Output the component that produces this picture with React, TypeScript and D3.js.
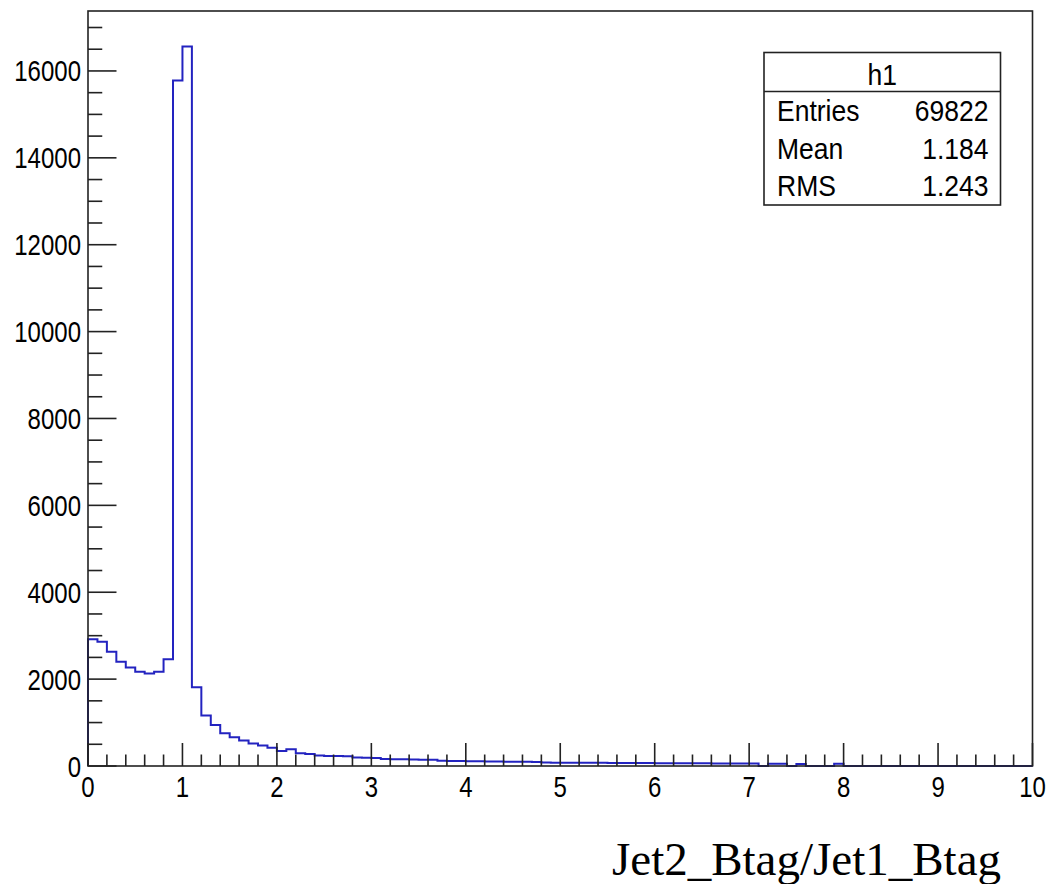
import React from "react";
import * as d3 from "d3";

const binEdges: number[] = [0, 10];
const nBins = 100;
const binValues: number[] = [
  2920, 2860, 2630, 2400, 2270, 2170, 2130, 2170, 2460, 15780,
  16560, 1810, 1160, 945, 755, 660, 585, 520, 470, 420,
  345, 385, 295, 275, 240, 232, 228, 222, 196, 190,
  185, 162, 158, 154, 150, 146, 142, 120, 116, 113,
  110, 107, 104, 101, 99, 97, 95, 93, 78, 77,
  76, 75, 74, 73, 72, 71, 70, 69, 68, 67,
  66, 65, 64, 63, 62, 61, 60, 59, 58, 57,
  56, 0, 52, 50, 0, 48, 0, 0, 0, 50,
  0, 0, 0, 0, 0, 0, 0, 0, 0, 0,
  0, 0, 0, 0, 0, 0, 0, 0, 0, 0,
];
const xTickLabels: string[] = ["0", "1", "2", "3", "4", "5", "6", "7", "8", "9", "10"];
const yTickValues: number[] = [0, 2000, 4000, 6000, 8000, 10000, 12000, 14000, 16000];
const statsTitle = "h1";
const statsLabels: string[] = ["Entries", "Mean", "RMS"];
const statsValues: string[] = ["69822", "1.184", "1.243"];
const xTitle = "Jet2_Btag/Jet1_Btag";
const yMax = 17380;

export default function App() {
  const W = 1048, H = 884;
  const left = 88, right = 1032.5, top = 11, bottom = 766;
  const x = d3.scaleLinear().domain(binEdges).range([left, right]);
  const y = d3.scaleLinear().domain([0, yMax]).range([bottom, top]);
  const bw = (binEdges[1] - binEdges[0]) / nBins;

  const pts: [number, number][] = [[binEdges[0], 0]];
  binValues.forEach((v, i) => {
    pts.push([binEdges[0] + i * bw, v]);
    pts.push([binEdges[0] + (i + 1) * bw, v]);
  });
  pts.push([binEdges[1], 0]);
  const line = d3.line<[number, number]>().x((d) => x(d[0])).y((d) => y(d[1]));

  const xMinor = d3.range(0, 10.0001, 0.2);
  const yMinor = d3.range(0, 17001, 500);
  const xTickLen = 23, yTickLen = 28.5;
  const font = "'Liberation Sans', Arial, Helvetica, sans-serif";

  const box = { x0: 764, x1: 1000.5, y0: 52.5, y1: 205, ydiv: 91.5 };
  const rowBase = [121, 158.5, 196];

  return (
    <svg width={W} height={H} style={{ position: "absolute", left: 0, top: 0, background: "#fff" }}>
      <rect x={0} y={0} width={W} height={H} fill="#fff" />
      <path d={line(pts) || ""} fill="none" stroke="#2323c0" strokeWidth={2} />
      {/* frame */}
      <rect x={left} y={top} width={right - left} height={bottom - top} fill="none" stroke="#222" strokeWidth={1.6} />
      {/* x ticks */}
      {xMinor.map((v, i) => {
        const major = Math.abs(v - Math.round(v)) < 1e-6;
        return (
          <line key={"xt" + i} x1={x(v)} x2={x(v)} y1={bottom} y2={bottom - (major ? xTickLen : xTickLen / 2)} stroke="#222" strokeWidth={1.6} />
        );
      })}
      {yMinor.map((v, i) => {
        const major = v % 2000 === 0;
        return (
          <line key={"yt" + i} x1={left} x2={left + (major ? yTickLen : yTickLen / 2)} y1={y(v)} y2={y(v)} stroke="#222" strokeWidth={1.6} />
        );
      })}
      {/* x labels */}
      {xTickLabels.map((t, i) => (
        <text key={"xl" + i} transform={`translate(${x(+t)},797) scale(1,1.22)`} textAnchor="middle" fontFamily={font} fontSize={24} fill="#000">{t}</text>
      ))}
      {yTickValues.map((v, i) => (
        <text key={"yl" + i} transform={`translate(81,${y(v) + 10.5}) scale(1,1.22)`} textAnchor="end" fontFamily={font} fontSize={24} fill="#000">{String(v)}</text>
      ))}
      {/* stats box */}
      <rect x={box.x0} y={box.y0} width={box.x1 - box.x0} height={box.y1 - box.y0} fill="#fff" stroke="#222" strokeWidth={1.6} />
      <line x1={box.x0} x2={box.x1} y1={box.ydiv} y2={box.ydiv} stroke="#222" strokeWidth={1.6} />
      <text transform={`translate(${(box.x0 + box.x1) / 2},84.5) scale(1,1.08)`} textAnchor="middle" fontFamily={font} fontSize={26.5} fill="#000">{statsTitle}</text>
      {statsLabels.map((s, i) => (
        <text key={"sl" + i} transform={`translate(777,${rowBase[i]}) scale(1,1.08)`} fontFamily={font} fontSize={26.5} fill="#000">{s}</text>
      ))}
      {statsValues.map((s, i) => (
        <text key={"sv" + i} transform={`translate(988.5,${rowBase[i]}) scale(1,1.08)`} textAnchor="end" fontFamily={font} fontSize={26.5} fill="#000">{s}</text>
      ))}
      {/* axis title */}
      <text x={1001} y={875} textAnchor="end" fontFamily="'Liberation Serif', 'Times New Roman', serif" fontSize={47} fill="#000">{xTitle}</text>
    </svg>
  );
}
